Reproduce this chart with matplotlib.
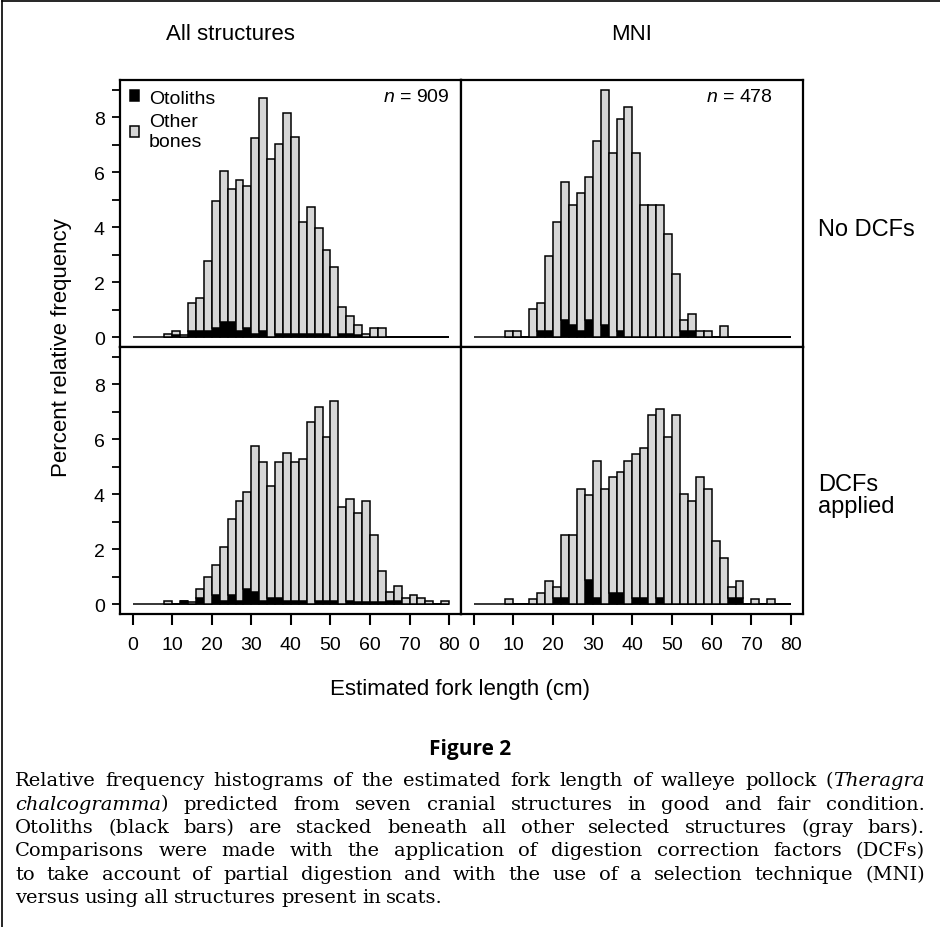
import re
import numpy as np
import matplotlib
matplotlib.use('Agg')
import matplotlib.pyplot as plt
from matplotlib.lines import Line2D

plt.rcParams['font.family'] = ['Liberation Sans', 'DejaVu Sans']
plt.rcParams['mathtext.fontset'] = 'custom'
plt.rcParams['mathtext.it'] = 'Liberation Sans:italic'
plt.rcParams['mathtext.rm'] = 'Liberation Sans'

# left edge of each 2-cm length class (cm)
lengths = [8, 10, 12, 14, 16, 18, 20, 22, 24, 26, 28, 30, 32, 34, 36, 38, 40, 42,
           44, 46, 48, 50, 52, 54, 56, 58, 60, 62, 64, 66, 68, 70, 72, 74, 76, 78]

# All structures, no DCFs
all_raw_total = [0.11, 0.24, 0.08, 1.24, 1.44, 2.76, 4.97, 6.05, 5.39, 5.72, 5.50, 7.26,
                 8.69, 6.50, 7.05, 8.16, 7.27, 4.18, 4.75, 3.99, 3.19, 2.55, 1.12, 0.78,
                 0.46, 0.12, 0.34, 0.34, 0, 0, 0, 0, 0, 0, 0, 0]
all_raw_oto = [0, 0.10, 0, 0.25, 0.25, 0.25, 0.35, 0.56, 0.56, 0.25, 0.35, 0.12,
               0.25, 0, 0.12, 0.12, 0.12, 0.12, 0.12, 0.12, 0.12, 0, 0.12, 0.12,
               0.10, 0, 0, 0, 0, 0, 0, 0, 0, 0, 0, 0]

# MNI, no DCFs
mni_raw_total = [0.22, 0.22, 0, 1.05, 1.26, 2.95, 4.18, 5.66, 4.81, 5.24, 5.85, 7.13,
                 9.00, 6.70, 7.95, 8.39, 6.70, 4.81, 4.81, 4.81, 3.77, 2.30, 0.63, 0.85,
                 0.22, 0.22, 0, 0.42, 0, 0, 0, 0, 0, 0, 0, 0]
mni_raw_oto = [0, 0, 0, 0, 0.24, 0.24, 0, 0.65, 0.46, 0.24, 0.65, 0,
               0.46, 0, 0.24, 0, 0, 0, 0, 0, 0, 0, 0.24, 0.24,
               0, 0, 0, 0, 0, 0, 0, 0, 0, 0, 0, 0]

# All structures, DCFs applied
all_dcf_total = [0.12, 0, 0.12, 0.10, 0.57, 1.00, 1.43, 2.10, 3.10, 3.77, 4.10, 5.75,
                 5.19, 4.31, 5.19, 5.52, 5.19, 5.30, 6.62, 7.17, 6.08, 7.39, 3.54, 3.85,
                 3.32, 3.75, 2.54, 1.23, 0.44, 0.67, 0.24, 0.34, 0.24, 0.12, 0, 0.12]
all_dcf_oto = [0, 0, 0.12, 0, 0.24, 0, 0.34, 0.12, 0.34, 0.12, 0.57, 0.46,
               0.12, 0.24, 0.24, 0.12, 0.12, 0.12, 0, 0.12, 0.12, 0.12, 0, 0.12,
               0.10, 0.10, 0.10, 0.10, 0.12, 0.12, 0, 0, 0, 0, 0, 0]

# MNI, DCFs applied
mni_dcf_total = [0.21, 0, 0, 0.21, 0.41, 0.84, 0.62, 2.52, 2.52, 4.19, 3.99, 5.22,
                 4.19, 4.62, 4.82, 5.22, 5.46, 5.67, 6.90, 7.12, 6.08, 6.90, 4.00, 3.77,
                 4.62, 4.18, 2.31, 1.68, 0.62, 0.84, 0, 0.21, 0, 0.21, 0, 0]
mni_dcf_oto = [0, 0, 0, 0, 0, 0, 0.22, 0.22, 0, 0, 0.87, 0.22,
               0, 0.43, 0.43, 0, 0.22, 0.22, 0, 0.22, 0, 0, 0, 0,
               0, 0, 0, 0, 0.22, 0.22, 0, 0, 0, 0, 0, 0]

column_titles = ['All structures', 'MNI']
row_titles = ['No DCFs', 'DCFs\napplied']
n_labels = ['909', '478']

GRAY = '#d6d6d6'

fig = plt.figure(figsize=(9.4, 9.28), dpi=100)
W, H = 940, 928

def fpos(x0, y0, x1, y1):
    return [x0 / W, 1 - y1 / H, (x1 - x0) / W, (y1 - y0) / H]

axes_px = [(120, 81, 461, 348), (461, 81, 803, 348),
           (120, 348, 461, 615), (461, 348, 803, 615)]
series = [(all_raw_total, all_raw_oto), (mni_raw_total, mni_raw_oto),
          (all_dcf_total, all_dcf_oto), (mni_dcf_total, mni_dcf_oto)]

for i, (px, (tot, oto)) in enumerate(zip(axes_px, series)):
    ax = fig.add_axes(fpos(*px))
    tot = np.array(tot)
    oto = np.array(oto)
    other = tot - oto
    b1 = ax.bar(lengths, oto, width=2, align='edge', color='black',
                edgecolor='black', linewidth=1.1, zorder=2)
    b2 = ax.bar(lengths, other, width=2, bottom=oto, align='edge', color=GRAY,
                edgecolor='black', linewidth=1.1, zorder=2)
    ax.hlines(0, 0, 80, color='black', linewidth=1.1, zorder=1)
    ax.set_xlim(-3.2, 83)
    ax.set_ylim(-0.35, 9.36)
    for s in ax.spines.values():
        s.set_linewidth(1.6)

    row, col = divmod(i, 2)
    if col == 0:
        ax.set_yticks(range(0, 10))
        ax.set_yticklabels([str(v) if v % 2 == 0 else '' for v in range(0, 10)])
        ax.tick_params(axis='y', direction='out', length=6, width=1.3,
                       labelsize=14, pad=5)
    else:
        ax.set_yticks([])
    if row == 1:
        ax.set_xticks(range(0, 81, 10))
        ax.tick_params(axis='x', direction='out', length=8, width=1.5,
                       labelsize=14, pad=8)
    else:
        ax.set_xticks([])

    if i == 0:
        leg = ax.legend([b1, b2], ['Otoliths', 'Other\nbones'], loc='upper left',
                        frameon=False, fontsize=14, handlelength=0.5, handleheight=0.5,
                        handletextpad=0.5, borderaxespad=0.3, labelspacing=0.3,
                        borderpad=0.2)
        leg.get_texts()[1].set_linespacing(1.3)
    if row == 0:
        xr = 0.968 if col == 0 else 0.912
        ax.text(xr, 0.94, r'$n$ = ' + n_labels[col], transform=ax.transAxes,
                ha='right', va='center', fontsize=14)

# column and row titles
fig.text(230 / W, 1 - 35 / H, column_titles[0], ha='center', va='center', fontsize=16)
fig.text(632 / W, 1 - 35 / H, column_titles[1], ha='center', va='center', fontsize=16)
fig.text(818 / W, 1 - 230 / H, row_titles[0], ha='left', va='center', fontsize=17)
fig.text(818 / W, 1 - 496 / H, row_titles[1], ha='left', va='center', fontsize=17,
         linespacing=1.05)

fig.text(62 / W, 1 - 348 / H, 'Percent relative frequency', rotation=90,
         ha='center', va='center', fontsize=16)
fig.text(460 / W, 1 - 690 / H, 'Estimated fork length (cm)', ha='center',
         va='center', fontsize=16)
fig.text(470 / W, 1 - 750 / H, 'Figure 2', ha='center', va='center',
         fontsize=15, fontweight='bold', family='Open Sans')

# caption, justified
caption = [
    "Relative frequency histograms of the estimated fork length of walleye pollock (*Theragra*",
    "*chalcogramma*) predicted from seven cranial structures in good and fair condition.",
    "Otoliths (black bars) are stacked beneath all other selected structures (gray bars).",
    "Comparisons were made with the application of digestion correction factors (DCFs)",
    "to take account of partial digestion and with the use of a selection technique (MNI)",
    "versus using all structures present in scats.",
]
cap_size = 14
cap_x0, cap_x1 = 15, 925
cap_y0, cap_dy = 781, 23.5
renderer = fig.canvas.get_renderer()
for li, line in enumerate(caption):
    y = 1 - (cap_y0 + li * cap_dy) / H
    items = []
    for w in line.split(' '):
        parts = [p for p in re.split(r'(\*[^*]+\*)', w) if p]
        texts = []
        for p in parts:
            italic = p.startswith('*')
            t = fig.text(0, y, p.strip('*'), ha='left', va='center', fontsize=cap_size,
                         family='DejaVu Serif', style='italic' if italic else 'normal')
            texts.append(t)
        widths = [t.get_window_extent(renderer).width for t in texts]
        items.append((texts, widths))
    total = sum(sum(ws) for _, ws in items)
    if li < len(caption) - 1:
        gap = (cap_x1 - cap_x0 - total) / (len(items) - 1)
    else:
        gap = 0.28 * cap_size * 100 / 72
    x = cap_x0
    for texts, widths in items:
        for t, wdt in zip(texts, widths):
            t.set_x(x / W)
            x += wdt
        x += gap

# outer frame (top and left edges)
fig.add_artist(Line2D([2 / W, 2 / W], [0, 1 - 2 / H], color='black', linewidth=1.2))
fig.add_artist(Line2D([2 / W, 1], [1 - 2 / H, 1 - 2 / H], color='black', linewidth=1.2))

fig.savefig('out.png', dpi=100)
